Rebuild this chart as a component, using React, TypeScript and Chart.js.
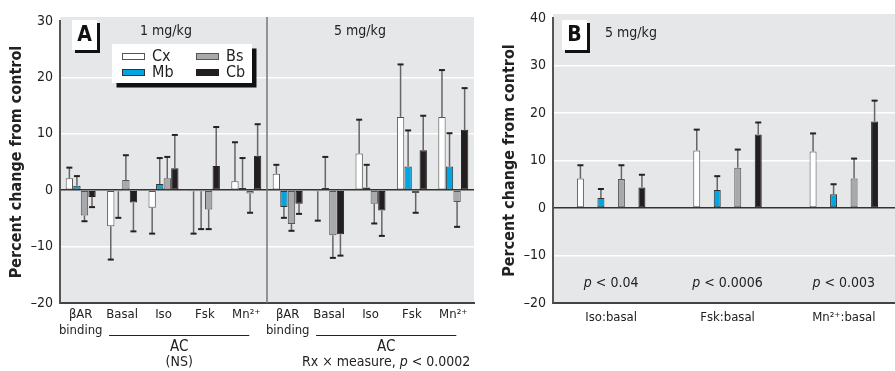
import { useEffect, useRef } from 'react';
import { Chart, registerables } from 'chart.js';
Chart.register(...registerables);

const FONT = "'Liberation Sans Narrow', 'DejaVu Sans Condensed', 'Arial Narrow', sans-serif";

// ---------- Panel A data ----------
const catsA = [['βAR', 'binding'], 'Basal', 'Iso', 'Fsk', 'Mn²⁺', ['βAR', 'binding'], 'Basal', 'Iso', 'Fsk', 'Mn²⁺'];
const cxA = [2.1, -6.4, -3.1, -0.2, 1.6, 2.9, -0.2, 6.5, 13.0, 13.0];
const cxTipA = [4.0, -12.3, -7.7, -7.7, 8.5, 4.5, -5.4, 12.5, 22.3, 21.3];
const mbA = [0.8, -0.2, 1.1, -0.2, 0.4, -3.0, 0.4, 0.5, 4.2, 4.2];
const mbTipA = [2.5, -4.9, 5.7, -6.9, 5.7, -4.9, 5.9, 4.5, 10.6, 10.1];
const bsA = [-4.5, 1.8, 2.1, -3.4, -0.6, -6.0, -8.0, -2.4, -0.5, -2.1];
const bsTipA = [-5.5, 6.2, 5.9, -6.9, -4.0, -7.2, -12.0, -5.9, -4.0, -6.5];
const cbA = [-1.2, -2.2, 3.9, 4.3, 6.1, -2.4, -7.8, -3.6, 7.1, 10.7];
const cbTipA = [-3.0, -7.3, 9.8, 11.2, 11.7, -4.2, -11.6, -8.1, 13.2, 18.1];

// ---------- Panel B data ----------
const catsB = ['Iso:basal', 'Fsk:basal', 'Mn²⁺:basal'];
const cxB = [6.2, 12.1, 11.9];
const cxTipB = [9.0, 16.5, 15.7];
const mbB = [2.1, 3.8, 2.9];
const mbTipB = [4.0, 6.7, 5.0];
const bsB = [6.1, 8.5, 6.2];
const bsTipB = [9.0, 12.3, 10.4];
const cbB = [4.3, 15.5, 18.2];
const cbTipB = [7.0, 18.0, 22.6];
const pValuesB = ['0.04', '0.0006', '0.003'];

const seriesNames = ['Cx', 'Mb', 'Bs', 'Cb'];
const fills = ['#ffffff', '#00a6e2', '#a7a9ac', '#231f20'];
const borders = ['#555555', '#333333', '#555555', '#231f20'];
const BG = '#e6e7e8';

const tickFmt = (v: any) => (v < 0 ? '–' + Math.abs(v) : String(v));

function errorPlugin(tips: number[][]) {
  return {
    id: 'errbars',
    afterDatasetsDraw(chart: any) {
      const ctx = chart.ctx;
      const y = chart.scales.y;
      chart.data.datasets.forEach((ds: any, i: number) => {
        const meta = chart.getDatasetMeta(i);
        meta.data.forEach((bar: any, j: number) => {
          const y0 = y.getPixelForValue(ds.data[j]);
          const y1 = y.getPixelForValue(tips[i][j]);
          const x = bar.x;
          ctx.save();
          ctx.strokeStyle = '#666';
          ctx.lineWidth = 1.5;
          ctx.beginPath();
          ctx.moveTo(x, y0);
          ctx.lineTo(x, y1);
          ctx.stroke();
          ctx.strokeStyle = '#222';
          ctx.lineWidth = 2;
          ctx.beginPath();
          ctx.moveTo(x - 3, y1);
          ctx.lineTo(x + 3, y1);
          ctx.stroke();
          ctx.restore();
        });
      });
    },
  };
}

function bgPlugin() {
  return {
    id: 'bg',
    beforeDraw(chart: any) {
      const { left, right, top, bottom } = chart.chartArea;
      const ctx = chart.ctx;
      ctx.save();
      ctx.fillStyle = BG;
      ctx.fillRect(left, top - 4, right - left, bottom - top + 4);
      ctx.restore();
    },
  };
}

function letterBox(ctx: any, x: number, y: number, letter: string) {
  ctx.save();
  ctx.fillStyle = '#111';
  ctx.fillRect(x + 3, y + 3, 25, 30);
  ctx.fillStyle = '#fff';
  ctx.fillRect(x, y, 25, 30);
  ctx.fillStyle = '#111';
  ctx.font = `bold 21px ${FONT}`;
  ctx.textAlign = 'center';
  ctx.textBaseline = 'middle';
  ctx.fillText(letter, x + 12.5, y + 16);
  ctx.restore();
}

// draws "<pre>p<rest>" centred at cx, with an italic p
function pText(ctx: any, cx: number, y: number, pre: string, rest: string) {
  ctx.save();
  ctx.fillStyle = '#222';
  ctx.textBaseline = 'middle';
  ctx.textAlign = 'left';
  ctx.font = `14px ${FONT}`;
  const w1 = ctx.measureText(pre).width;
  const w3 = ctx.measureText(rest).width;
  ctx.font = `italic 14px ${FONT}`;
  const w2 = ctx.measureText('p').width;
  const x0 = cx - (w1 + w2 + w3) / 2;
  ctx.font = `14px ${FONT}`;
  ctx.fillText(pre, x0, y);
  ctx.font = `italic 14px ${FONT}`;
  ctx.fillText('p', x0 + w1, y);
  ctx.font = `14px ${FONT}`;
  ctx.fillText(rest, x0 + w1 + w2, y);
  ctx.restore();
}

const decoA = {
  id: 'decoA',
  beforeDatasetsDraw(chart: any) {
    const ctx = chart.ctx;
    const xs = chart.scales.x;
    const { top, bottom } = chart.chartArea;
    const xd = (xs.getPixelForValue(4) + xs.getPixelForValue(5)) / 2;
    ctx.save();
    ctx.strokeStyle = '#777';
    ctx.lineWidth = 1.5;
    ctx.beginPath();
    ctx.moveTo(xd, top - 4);
    ctx.lineTo(xd, bottom);
    ctx.stroke();
    ctx.restore();
  },
  afterDraw(chart: any) {
    const ctx = chart.ctx;
    const xs = chart.scales.x;
    letterBox(ctx, 72, 20, 'A');
    ctx.save();
    ctx.fillStyle = '#222';
    ctx.font = `14px ${FONT}`;
    ctx.textAlign = 'center';
    ctx.textBaseline = 'middle';
    ctx.fillText('1 mg/kg', 166, 31);
    ctx.fillText('5 mg/kg', 360, 31);
    // legend box with shadow
    ctx.fillStyle = '#111';
    ctx.fillRect(116.5, 48.5, 140, 39);
    ctx.fillStyle = '#fff';
    ctx.fillRect(112, 44, 140, 39);
    const sw = [
      [122, 53],
      [122, 69],
      [196, 53],
      [196, 69],
    ];
    sw.forEach((p, i) => {
      ctx.fillStyle = fills[i];
      ctx.fillRect(p[0], p[1], 23, 7);
      ctx.strokeStyle = borders[i];
      ctx.lineWidth = 1;
      ctx.strokeRect(p[0] + 0.5, p[1] + 0.5, 22, 6);
      ctx.fillStyle = '#222';
      ctx.font = `16px ${FONT}`;
      ctx.textAlign = 'left';
      ctx.fillText(seriesNames[i], p[0] + 30, p[1] + 4);
    });
    ctx.restore();
    // AC annotations
    const groups = [
      [1, 4],
      [6, 9],
    ];
    groups.forEach((g, k) => {
      const x1 = xs.getPixelForValue(g[0]) - 13;
      const x2 = xs.getPixelForValue(g[1]) + 3;
      ctx.save();
      ctx.strokeStyle = '#222';
      ctx.lineWidth = 1;
      ctx.beginPath();
      ctx.moveTo(x1, 335.5);
      ctx.lineTo(x2, 335.5);
      ctx.stroke();
      const cx = (x1 + x2) / 2;
      ctx.fillStyle = '#222';
      ctx.font = `15px ${FONT}`;
      ctx.textAlign = 'center';
      ctx.textBaseline = 'middle';
      ctx.fillText('AC', cx, 347.5);
      ctx.font = `14px ${FONT}`;
      if (k === 0) ctx.fillText('(NS)', cx, 362);
      ctx.restore();
      if (k === 1) pText(ctx, cx, 362, 'Rx × measure, ', ' < 0.0002');
    });
  },
};

const decoB = {
  id: 'decoB',
  afterDraw(chart: any) {
    const ctx = chart.ctx;
    const xs = chart.scales.x;
    letterBox(ctx, 562 - 495, 20, 'B');
    ctx.save();
    ctx.fillStyle = '#222';
    ctx.font = `14px ${FONT}`;
    ctx.textAlign = 'center';
    ctx.textBaseline = 'middle';
    ctx.fillText('5 mg/kg', 631 - 495, 33);
    ctx.restore();
    pValuesB.forEach((p, i) => {
      pText(ctx, xs.getPixelForValue(i), 283, '', ' < ' + p);
    });
  },
};

function makeDatasets(vals: number[][], barPct: number, catPct: number) {
  return vals.map((d, i) => ({
    label: seriesNames[i],
    data: d,
    backgroundColor: fills[i],
    borderColor: borders[i],
    borderWidth: 1,
    borderSkipped: false,
    barPercentage: barPct,
    categoryPercentage: catPct,
  }));
}

function yScale(min: number, max: number, width: number, titlePad: number) {
  return {
    min,
    max,
    ticks: {
      stepSize: 10,
      callback: tickFmt,
      font: { family: FONT, size: 14 },
      color: '#222',
      padding: 7,
    },
    grid: {
      color: (c: any) => (c.tick && c.tick.value === 0 ? '#333' : c.tick && c.tick.value === max ? 'rgba(0,0,0,0)' : '#ffffff'),
      lineWidth: 1.5,
      drawTicks: false,
    },
    border: { color: '#555', width: 2 },
    title: {
      display: true,
      text: 'Percent change from control',
      font: { family: FONT, size: 16, weight: 'bold' },
      color: '#222',
      padding: { top: titlePad, bottom: 0 },
    },
    afterFit: (s: any) => {
      s.width = width;
    },
  };
}

function xScale(height: number, pad: number) {
  return {
    grid: { display: false, drawTicks: false },
    border: { color: '#444', width: 2 },
    ticks: {
      font: { family: FONT, size: 13 },
      color: '#222',
      padding: pad,
      maxRotation: 0,
      autoSkip: false,
    },
    afterFit: (s: any) => {
      s.height = height;
    },
  };
}

export default function App() {
  const refA = useRef<HTMLCanvasElement>(null);
  const refB = useRef<HTMLCanvasElement>(null);

  useEffect(() => {
    const chartA = new Chart(refA.current as any, {
      type: 'bar',
      data: {
        labels: catsA as any,
        datasets: makeDatasets([cxA, mbA, bsA, cbA], 0.97, 0.73) as any,
      },
      options: {
        animation: false,
        responsive: false,
        maintainAspectRatio: false,
        layout: { padding: { left: 0, right: 16, top: 21, bottom: 0 } },
        plugins: { legend: { display: false }, tooltip: { enabled: false } },
        scales: { x: xScale(68, 4) as any, y: yScale(-20, 30, 60, 7) as any },
      },
      plugins: [bgPlugin(), errorPlugin([cxTipA, mbTipA, bsTipA, cbTipA]), decoA],
    });
    const chartB = new Chart(refB.current as any, {
      type: 'bar',
      data: {
        labels: catsB,
        datasets: makeDatasets([cxB, mbB, bsB, cbB], 0.34, 0.705) as any,
      },
      options: {
        animation: false,
        responsive: false,
        maintainAspectRatio: false,
        layout: { padding: { left: 0, right: 3, top: 18, bottom: 0 } },
        plugins: { legend: { display: false }, tooltip: { enabled: false } },
        scales: { x: xScale(68, 7) as any, y: yScale(-20, 40, 58, 5) as any },
      },
      plugins: [bgPlugin(), errorPlugin([cxTipB, mbTipB, bsTipB, cbTipB]), decoB],
    });
    return () => {
      chartA.destroy();
      chartB.destroy();
    };
  }, []);

  return (
    <div
      style={{
        position: 'fixed',
        left: 0,
        top: 0,
        width: 895,
        height: 371,
        overflow: 'hidden',
        background: '#fff',
      }}
    >
      <canvas ref={refA} width={490} height={371} style={{ position: 'absolute', left: 0, top: 0, width: 490, height: 371 }} />
      <canvas ref={refB} width={410} height={371} style={{ position: 'absolute', left: 495, top: 0, width: 410, height: 371 }} />
    </div>
  );
}
